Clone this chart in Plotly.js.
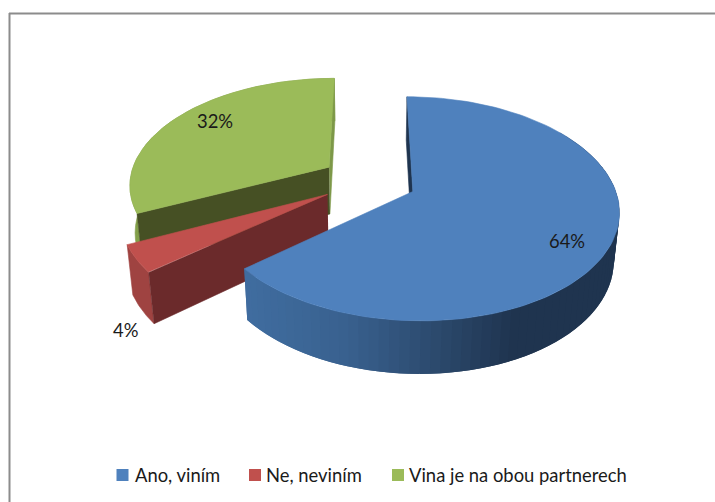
<!DOCTYPE html>
<html>
<head>
<meta charset="utf-8">
<script src="https://cdn.plot.ly/plotly-3.0.1.min.js"></script>
<style>html,body{margin:0;padding:0;background:#fff}#chart{width:715px;height:502px}</style>
</head>
<body>
<div id="chart"></div>
<script>
const categories = ["Ano, viním", "Ne, neviním", "Vina je na obou partnerech"];
const values = [64, 4, 32];
const pullFraction = 0.24;
const sliceColors = ["#4f81bd", "#c0504d", "#9bbb59"];
const valueLabels = ["64%", "4%", "32%"];

// projection of the tilted pie into the pixel-sized axes
const cx = 368.8, cy = 180.5, sx = 199.8, sy = 106, persp = 0.152, depth = 48.5, depthPersp = 0.022;
function project(X, Y, Z) {
  const s = 1 / (1 + persp * Y + depthPersp * Z);
  return [cx + sx * X * s, cy + (-sy * Y + depth * Z) * s];
}
const total = values.reduce((a, b) => a + b, 0);
let acc = 0;
const slices = values.map((v, i) => {
  const a0 = acc / total * 2 * Math.PI; acc += v;
  const a1 = acc / total * 2 * Math.PI;
  const mid = (a0 + a1) / 2;
  return { a0, a1, ox: pullFraction * Math.sin(mid), oy: pullFraction * Math.cos(mid), color: sliceColors[i], name: categories[i] };
});
const traces = [];
function poly(pts, color, name, edge) {
  traces.push({
    type: "scatter", mode: "lines", x: pts.map(p => p[0]), y: pts.map(p => p[1]),
    fill: "toself", fillcolor: color, line: { color: color, width: edge || 0 },
    hoverinfo: "skip", showlegend: false, name: name || ""
  });
}
function rim(sl, a, Z) { return project(sl.ox + Math.sin(a), sl.oy + Math.cos(a), Z); }
function arc(sl, a0, a1, Z, n) {
  const out = [];
  for (let k = 0; k <= n; k++) out.push(rim(sl, a0 + (a1 - a0) * k / n, Z));
  return out;
}
function apex(sl, Z) { return project(sl.ox, sl.oy, Z); }
function radial(sl, a, color) {
  poly([apex(sl, 0), rim(sl, a, 0), rim(sl, a, 1), apex(sl, 1)], color, "", 0.6);
}
function topFace(sl) {
  const pts = [apex(sl, 0)].concat(arc(sl, sl.a0, sl.a1, 0, 120));
  poly(pts.concat([pts[0]]), sl.color, sl.name, 0.6);
}
function wall(sl, a0, a1, color, edge) {
  poly(arc(sl, a0, a1, 0, 30).concat(arc(sl, a1, a0, 1, 30)), color, "", edge);
}
const [blue, red, green] = slices;

// green slice
wall(green, green.a0, green.a1, "#83a04a", 0.6);
radial(green, green.a1, "#7d9848");
radial(green, green.a0, "#465024");
topFace(green);

// red slice
wall(red, red.a0, red.a1, "#9f4341", 0.6);
radial(red, red.a0, "#6b2a2b");
topFace(red);

// blue slice: shaded rim made of narrow overlapping strips, painted from the far end towards the near end
radial(blue, blue.a0, "#1f344f");
const stops = [[240, [64, 109, 160]], [340, [57, 97, 143]], [430, [44, 74, 110]], [510, [31, 52, 79]], [700, [31, 52, 79]]];
function shade(px) {
  let i = 0;
  while (i < stops.length - 2 && px > stops[i + 1][0]) i++;
  const t = Math.max(0, Math.min(1, (px - stops[i][0]) / (stops[i + 1][0] - stops[i][0])));
  const c = stops[i][1].map((v, j) => Math.round(v + (stops[i + 1][1][j] - v) * t));
  return "rgb(" + c.join(",") + ")";
}
const strips = 70, wallEnd = blue.a0 + Math.PI * 0.3;
const stepAngle = (wallEnd - blue.a1) / strips;
for (let k = 0; k < strips; k++) {
  const a = wallEnd - stepAngle * k;            // far edge, overlaps the strip painted before
  const b = a - stepAngle * (k === strips - 1 ? 1 : 2);
  wall(blue, a, b, shade(rim(blue, a - stepAngle, 0)[0]));
}
topFace(blue);

// legend swatches
const legendX = [122.5, 255, 398], legendTextX = [134, 265, 408], legendY = 475;
categories.forEach((c, i) => {
  traces.push({
    type: "scatter", mode: "markers", x: [legendX[i]], y: [legendY],
    marker: { symbol: "square", size: 12, color: sliceColors[i] },
    hoverinfo: "skip", showlegend: false, name: c
  });
});

const font = { family: "Lato, 'Open Sans', sans-serif", size: 18.4, color: "#1a1a1a" };
const labelPos = [[567, 241], [125, 330], [215, 121]];
const annotations = valueLabels.map((t, i) => ({
  xref: "x", yref: "y", x: labelPos[i][0], y: labelPos[i][1], text: t,
  showarrow: false, xanchor: "center", yanchor: "middle", font: font
})).concat(categories.map((c, i) => ({
  xref: "x", yref: "y", x: legendTextX[i], y: legendY, text: c,
  showarrow: false, xanchor: "left", yanchor: "middle", font: font, borderpad: 0
})));

const hidden = { visible: false, fixedrange: true };
Plotly.newPlot("chart", traces, {
  width: 715, height: 502,
  margin: { l: 0, r: 0, t: 0, b: 0 },
  paper_bgcolor: "#ffffff", plot_bgcolor: "#ffffff",
  xaxis: Object.assign({ range: [0, 715] }, hidden),
  yaxis: Object.assign({ range: [502, 0] }, hidden),
  showlegend: false,
  annotations: annotations,
  shapes: [
    { type: "line", xref: "x", yref: "y", x0: 9.5, x1: 9.5, y0: 13, y1: 502, line: { color: "#8c8c8c", width: 2 } },
    { type: "line", xref: "x", yref: "y", x0: 9, x1: 715, y0: 13.5, y1: 13.5, line: { color: "#8c8c8c", width: 2 } }
  ]
}, { displayModeBar: false, staticPlot: true });
</script>
</body>
</html>
